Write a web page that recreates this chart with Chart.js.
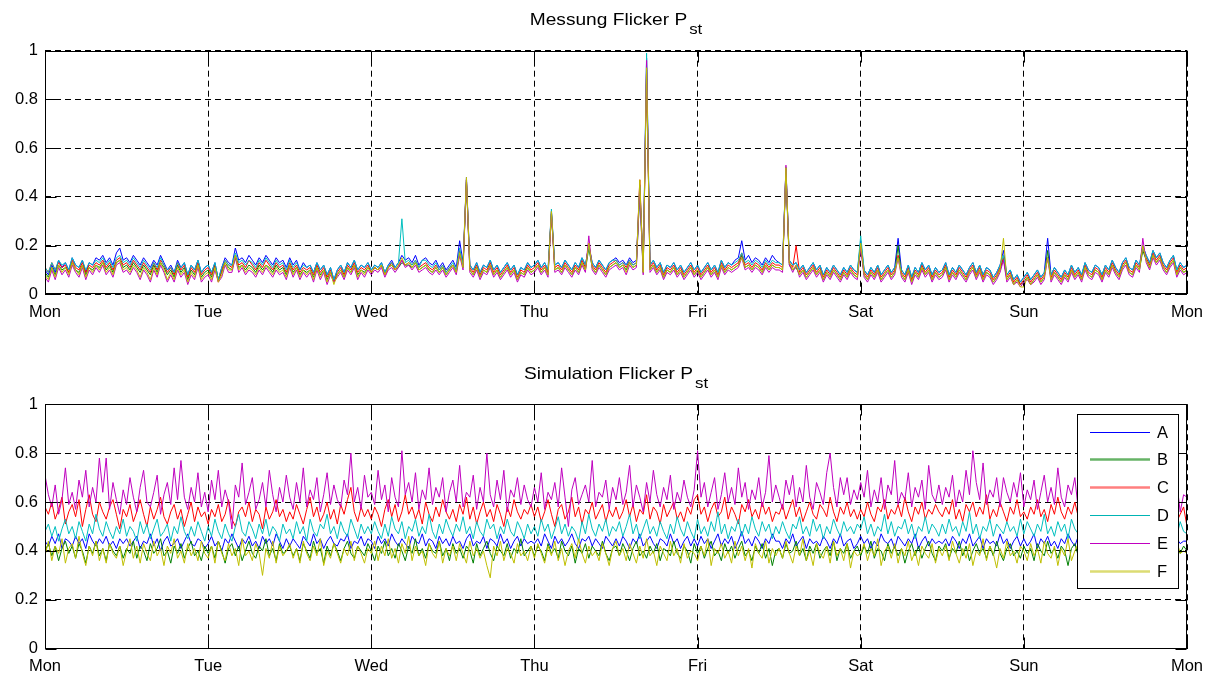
<!DOCTYPE html>
<html>
<head>
<meta charset="utf-8">
<script src="https://cdn.jsdelivr.net/npm/chart.js@4.4.0/dist/chart.umd.min.js"></script>
<style>
  body { margin: 0; background: #fff; }
  #wrap { position: relative; width: 1216px; height: 677px; }
  canvas { position: absolute; left: 0; }
</style>
</head>
<body>
<div id="wrap">
  <canvas id="mess" width="1216" height="340" style="top:0"></canvas>
  <canvas id="sim" width="1216" height="323" style="top:354px"></canvas>
</div>
<script>
// Pst in hundredths, one sample every 30 min, Mon 00:00 .. next Mon 00:00 (337 samples)
const DAYS = ['Mon', 'Tue', 'Wed', 'Thu', 'Fri', 'Sat', 'Sun', 'Mon'];
const NAMES = ['A', 'B', 'C', 'D', 'E', 'F'];

const MESS_A = [10,8,12,9,14,11,13,10,15,12,11,14,9,13,12,15,14,16,13,15,12,17,19,14,
  15,13,16,14,12,15,13,11,14,12,16,13,10,12,9,14,11,13,8,12,10,14,9,11,
  12,9,13,6,11,15,13,12,19,14,15,13,16,14,12,15,13,16,14,12,15,13,14,11,
  15,12,14,10,13,11,12,9,13,10,12,8,11,6,10,12,9,13,11,14,10,12,11,13,
  10,12,11,13,9,12,14,11,13,16,14,15,13,16,12,14,15,13,12,14,11,13,10,12,
  14,11,22,13,48,12,10,13,9,12,11,14,10,12,9,11,13,10,12,8,11,10,13,11,
  12,14,11,13,10,34,12,13,11,14,12,10,13,11,15,12,20,13,11,14,12,10,13,14,
  15,13,14,12,15,13,14,45,11,97,12,14,11,13,9,12,11,13,10,12,9,11,13,10,
  12,9,11,13,10,12,9,14,11,13,12,14,15,22,14,16,13,15,14,12,15,13,16,14,
  13,12,52,14,12,13,10,12,9,11,13,10,12,8,11,9,12,10,8,11,9,12,10,9,
  22,10,8,11,9,12,8,10,12,9,11,23,10,8,12,7,11,9,13,10,12,8,11,9,
  10,13,8,11,9,12,10,8,11,13,9,12,8,11,10,7,9,12,18,8,10,6,8,5,
  7,9,6,8,10,7,9,23,8,11,9,7,10,8,12,9,11,8,13,10,9,12,11,8,
  12,10,14,11,9,13,15,11,10,14,12,20,16,13,18,15,17,13,11,14,16,10,13,11,
  12];
const MESS_B = [9,7,11,8,12,10,11,9,13,10,9,12,8,11,10,12,11,13,10,12,9,13,14,11,
  12,10,13,11,9,12,10,8,12,9,13,11,8,10,7,12,9,11,6,10,8,12,7,9,
  10,7,12,6,9,13,11,10,15,11,12,10,12,11,9,12,10,12,11,9,12,10,11,8,
  12,9,11,8,10,9,10,7,11,8,10,6,9,5,8,10,7,11,9,12,8,10,9,11,
  9,11,10,12,8,11,12,10,11,13,12,12,11,13,10,11,12,10,9,11,9,11,8,10,
  12,9,17,11,46,10,8,11,7,10,9,12,8,10,7,9,11,8,10,6,9,8,11,9,
  10,12,9,11,8,33,10,11,9,12,10,8,11,9,13,10,19,11,9,12,10,8,11,12,
  13,11,12,10,13,11,12,42,9,92,10,12,9,11,7,10,9,11,8,10,7,9,11,8,
  10,7,9,11,8,10,7,12,9,11,10,11,12,16,11,12,10,12,11,9,12,10,12,11,
  11,10,50,12,10,11,8,10,7,9,11,8,10,6,9,7,10,8,6,9,7,10,8,7,
  20,8,6,9,7,10,6,8,10,7,9,20,8,6,10,5,9,7,11,8,10,6,9,7,
  8,11,6,9,7,10,8,6,9,11,7,10,6,9,8,5,7,10,15,6,8,4,6,4,
  5,7,4,6,8,5,7,18,6,9,7,5,8,6,10,7,9,6,11,8,7,10,9,6,
  10,8,12,9,7,11,13,9,8,12,10,18,14,11,16,13,15,11,9,12,14,8,11,9,
  10];
const MESS_C = [11,9,13,10,13,11,12,9,14,11,10,13,9,12,11,13,12,14,11,13,10,14,15,12,
  13,11,14,12,10,13,11,9,13,10,14,12,9,11,8,13,10,12,7,11,9,13,8,10,
  11,8,12,5,10,14,12,11,16,12,13,11,14,12,10,13,11,14,12,10,13,11,12,9,
  13,10,12,9,11,10,11,8,12,9,11,7,10,5,9,11,8,12,10,13,9,11,10,12,
  9,11,10,12,8,11,13,10,12,14,12,13,12,14,11,12,13,11,10,12,10,12,9,11,
  12,10,18,12,47,11,9,12,8,11,10,13,9,11,8,10,12,9,11,7,10,9,12,10,
  11,13,10,12,9,34,11,12,10,13,11,9,12,10,14,11,21,12,10,13,11,9,12,13,
  14,12,13,11,14,12,13,47,10,93,11,13,10,12,8,11,10,12,9,11,8,10,12,9,
  11,8,10,12,9,11,8,13,10,12,11,12,13,17,12,13,11,13,12,10,13,11,13,12,
  12,11,51,13,11,20,9,11,8,10,12,9,11,7,10,8,11,9,7,10,8,11,9,8,
  21,9,7,10,8,11,7,9,11,8,10,16,9,7,11,6,10,8,12,9,11,7,10,8,
  9,12,7,10,8,11,9,7,10,12,8,11,7,10,9,6,8,11,15,7,9,5,7,4,
  6,8,5,7,9,6,8,15,7,10,8,6,9,7,11,8,10,7,12,9,8,11,10,7,
  11,9,13,10,8,12,14,10,9,13,11,19,15,12,17,14,16,12,10,13,15,9,12,10,
  11];
const MESS_D = [11,9,13,10,14,12,13,10,15,12,11,14,10,13,12,14,13,15,12,14,11,15,16,13,
  14,12,15,13,11,14,12,10,13,11,15,12,10,11,9,13,11,13,8,12,10,14,9,11,
  12,9,13,6,11,14,12,12,17,13,14,12,14,13,11,14,12,15,13,11,14,12,13,10,
  14,11,13,10,12,11,12,9,13,10,12,8,11,6,10,12,9,13,11,14,10,12,11,13,
  10,12,11,13,9,12,13,11,13,31,13,14,12,14,11,14,14,12,11,13,10,12,9,11,
  13,10,19,12,47,12,10,13,9,12,11,14,10,12,9,11,13,10,12,8,11,10,13,11,
  12,14,11,13,10,35,12,13,11,14,12,10,13,11,15,12,20,13,11,14,12,10,13,14,
  14,12,13,12,14,12,13,44,11,99,12,14,11,13,9,12,11,13,10,12,9,11,13,10,
  12,9,11,13,10,12,9,14,11,13,12,13,14,17,13,14,12,14,13,11,14,12,14,13,
  13,12,52,14,12,13,10,12,9,11,13,10,12,8,11,9,12,10,8,11,9,12,10,9,
  24,10,8,11,9,12,8,10,12,9,11,15,10,8,12,7,11,9,13,10,12,8,11,9,
  10,13,8,11,9,12,10,8,11,13,9,12,8,11,10,7,9,12,16,8,10,6,8,5,
  7,9,6,8,10,7,9,15,8,11,9,7,10,8,12,9,11,8,13,10,9,12,11,8,
  12,10,14,11,9,13,15,11,10,14,12,19,16,13,18,15,17,13,11,14,16,10,13,11,
  12];
const MESS_E = [7,5,10,6,11,8,10,7,12,9,7,11,6,10,8,11,9,12,8,10,7,12,13,9,
  10,8,11,9,6,10,8,5,10,7,12,9,5,8,5,10,7,9,4,8,6,11,5,7,
  8,5,10,5,7,12,9,9,15,9,11,8,10,9,7,10,8,11,9,7,10,8,9,6,
  11,7,10,6,9,7,9,5,10,6,9,4,8,5,7,9,6,10,8,11,6,9,7,10,
  8,10,9,11,7,10,11,9,11,14,11,12,10,12,9,10,11,9,8,10,8,10,7,9,
  11,8,16,10,47,9,7,10,6,9,8,11,7,9,6,8,10,7,9,5,8,7,10,8,
  9,11,8,10,7,33,9,10,8,11,9,7,10,8,12,9,24,10,8,11,9,7,10,11,
  12,10,11,8,12,10,11,43,8,96,9,11,8,10,6,9,8,10,7,9,6,8,10,7,
  9,6,8,10,7,9,6,11,8,10,9,10,11,15,10,11,9,11,10,8,11,9,11,10,
  10,9,53,12,9,12,7,9,6,8,10,7,9,5,8,6,9,7,5,8,6,9,7,6,
  19,7,5,8,6,9,5,7,9,6,8,15,7,5,9,4,8,6,10,7,9,5,8,6,
  7,10,5,8,6,9,7,5,8,10,6,9,5,8,7,4,6,9,14,5,7,4,5,3,
  5,6,4,5,7,4,6,15,5,8,6,4,7,5,9,6,8,5,10,7,6,9,8,5,
  9,7,11,8,6,10,12,8,7,11,9,23,13,10,15,12,14,10,8,11,13,7,10,8,
  9];
const MESS_F = [8,6,11,7,12,9,11,8,13,10,8,12,7,11,9,12,10,13,9,11,8,13,14,10,
  11,9,12,10,7,11,9,6,11,8,13,10,6,9,6,11,8,10,5,9,7,12,6,8,
  9,6,11,5,8,13,10,10,16,10,12,9,11,10,8,11,9,12,10,8,11,9,10,7,
  12,8,11,7,10,8,10,6,11,7,10,5,9,4,8,10,7,11,9,12,7,10,8,11,
  9,11,10,12,8,11,12,10,12,15,12,13,11,13,10,11,12,10,9,11,9,11,8,10,
  12,9,17,11,48,10,8,11,7,10,9,12,8,10,7,9,11,8,10,6,9,8,11,9,
  10,12,9,11,8,34,10,11,9,12,10,8,11,9,13,10,21,11,9,12,10,8,11,12,
  13,11,12,9,13,11,12,47,9,93,10,12,9,11,7,10,9,11,8,10,7,9,11,8,
  10,7,9,11,8,10,7,12,9,11,10,11,12,15,11,12,10,12,11,9,12,10,12,11,
  11,10,52,13,10,12,8,10,7,9,11,8,10,6,9,7,10,8,6,9,7,10,8,7,
  21,8,6,9,7,10,6,8,10,7,9,15,8,6,10,5,9,7,11,8,10,6,9,7,
  8,11,6,9,7,10,8,6,9,11,7,10,6,9,8,5,7,10,23,6,8,4,6,3,
  3,7,4,6,8,5,7,15,6,9,7,5,8,6,10,7,9,6,11,8,7,10,9,6,
  10,8,12,9,7,11,13,9,8,12,10,20,14,11,16,13,15,11,9,12,14,8,11,9,
  10];

const SIM_A = [44,42,46,43,47,41,45,44,42,46,43,45,41,47,44,42,45,43,46,42,44,41,45,43,
  45,42,44,46,41,44,43,47,42,45,40,44,46,42,43,45,41,44,47,43,42,45,44,41,
  43,46,42,44,40,45,43,47,44,41,45,43,46,42,44,41,46,43,45,42,47,44,41,45,
  42,45,43,41,46,44,42,47,43,45,41,44,46,43,42,45,44,47,41,44,43,46,42,45,
  44,41,46,43,45,42,47,44,42,45,43,41,46,44,43,47,42,45,44,41,46,43,45,42,
  46,43,44,41,45,47,42,44,43,46,41,45,44,42,47,43,45,41,44,46,42,45,43,44,
  43,45,42,47,44,41,46,43,45,42,44,47,43,41,45,44,46,42,45,43,41,46,44,42,
  45,42,46,44,41,45,43,47,42,44,46,43,41,45,44,42,47,43,45,41,44,46,42,45,
  42,46,43,45,41,44,47,42,45,43,46,41,44,48,43,45,42,46,44,41,45,43,47,44,
  44,41,45,43,47,42,44,46,41,45,43,44,42,46,44,41,45,43,47,42,44,45,41,43,
  46,43,45,41,44,42,47,44,43,45,41,46,44,42,45,43,47,41,44,46,42,45,43,44,
  43,45,42,46,44,41,45,43,47,42,44,46,41,45,43,44,42,47,43,45,41,44,46,42,
  45,42,44,47,41,45,43,46,42,44,41,45,43,47,44,42,46,43,45,41,44,46,43,45,
  44,41,46,43,45,42,47,44,41,45,43,46,42,44,47,43,45,41,44,46,42,45,43,44,
  44];
const SIM_B = [40,43,38,42,36,41,44,39,42,37,43,40,35,42,39,44,38,41,36,43,40,38,42,37,
  41,39,44,37,42,40,36,43,39,41,45,38,40,35,42,39,43,37,41,44,38,40,36,42,
  39,42,37,44,40,35,41,43,38,42,36,40,44,39,37,42,40,45,38,41,36,43,39,40,
  42,38,41,36,43,40,37,44,39,41,35,42,38,43,40,36,41,44,39,37,42,40,38,43,
  40,36,42,39,44,38,41,37,43,40,36,42,39,45,38,41,37,43,40,39,44,38,41,36,
  43,39,41,37,42,40,35,43,38,41,44,39,36,42,40,38,43,37,41,39,45,38,40,42,
  38,42,40,36,43,39,41,37,44,40,38,42,35,41,39,43,37,42,40,38,44,39,36,41,
  42,38,43,40,36,41,44,38,40,37,42,39,43,36,41,40,38,44,39,37,42,40,35,43,
  39,42,37,41,44,38,40,36,43,39,42,37,41,44,38,40,36,42,39,43,37,41,34,40,
  41,37,43,39,40,44,38,41,36,42,39,43,37,40,42,38,44,36,41,39,43,37,40,42,
  38,42,39,44,37,41,40,36,43,39,42,38,41,35,40,43,38,42,37,41,44,39,36,42,
  40,43,37,41,39,44,38,42,36,40,43,39,41,37,42,38,44,39,36,41,43,38,40,37,
  42,39,41,36,43,40,38,44,39,41,37,42,40,34,41,43,38,40,36,42,39,44,38,41,
  39,42,37,43,40,38,41,45,38,42,36,40,43,39,41,37,42,40,38,43,36,41,39,42,
  40];
const SIM_C = [58,55,60,53,57,62,51,56,59,54,61,50,57,63,55,52,60,56,53,58,61,55,49,57,
  54,59,52,56,61,55,50,58,53,57,62,54,51,56,59,53,57,50,55,60,52,58,54,56,
  51,57,54,59,52,55,61,53,50,56,58,54,60,52,57,55,49,58,53,56,61,54,57,52,
  56,53,59,55,51,57,62,54,58,52,55,60,53,57,51,59,55,61,66,56,52,58,54,57,
  53,58,55,50,57,61,54,59,52,56,63,55,58,53,57,51,60,55,52,58,54,61,56,53,
  57,52,59,55,62,53,58,51,56,60,54,57,52,59,55,50,58,54,61,56,53,57,55,59,
  54,58,52,56,61,55,50,57,59,53,56,62,54,58,51,57,55,60,53,56,59,52,57,54,
  58,53,56,61,54,59,52,57,55,63,53,58,56,51,59,54,57,60,53,56,52,58,55,61,
  63,55,58,52,57,60,54,56,62,53,58,55,51,59,56,61,54,57,53,60,55,58,52,56,
  55,59,53,57,61,54,58,52,56,60,55,53,59,57,54,62,56,52,58,55,60,54,57,53,
  57,54,60,55,52,58,56,61,53,57,55,59,54,62,56,52,58,55,60,53,57,55,59,56,
  54,58,55,61,53,57,52,59,56,60,54,58,55,63,53,57,54,60,56,52,58,55,61,54,
  56,53,58,55,61,54,57,52,59,55,62,56,53,58,55,60,54,57,52,59,56,53,58,55,
  58,54,57,52,60,55,58,53,56,61,54,57,55,59,53,57,51,56,60,54,57,52,55,58,
  50];
const SIM_D = [48,51,46,50,44,49,53,47,50,45,52,48,44,51,47,55,49,46,52,48,45,50,47,53,
  46,50,48,44,52,47,51,45,49,53,46,48,51,44,50,47,54,48,45,50,46,52,48,44,
  50,46,53,48,45,51,47,44,50,55,48,46,52,49,45,51,47,53,46,50,48,44,51,47,
  49,45,52,47,50,44,53,48,46,51,49,55,47,50,45,52,48,46,53,49,45,51,47,50,
  47,52,48,45,51,46,54,49,47,52,45,50,48,53,46,50,47,55,48,45,51,47,53,49,
  46,51,48,54,47,50,45,52,48,46,53,49,51,45,50,47,53,48,46,52,49,45,51,47,
  50,46,53,48,51,45,49,54,47,51,46,50,48,44,52,47,55,49,46,51,48,53,46,50,
  48,52,46,50,55,47,51,45,49,53,47,50,46,52,48,45,51,47,54,49,46,52,48,45,
  53,47,50,46,52,48,56,47,51,45,50,48,53,46,51,47,54,49,46,52,48,51,45,50,
  47,52,48,45,51,49,54,47,50,46,53,48,51,45,50,47,53,49,46,52,48,50,47,51,
  49,54,47,51,46,50,48,55,47,52,46,50,49,53,47,51,45,50,48,54,47,51,49,46,
  51,47,53,48,50,46,52,48,56,47,51,45,50,48,53,46,51,49,47,52,48,50,46,53,
  47,52,49,46,51,48,55,47,50,46,52,48,51,45,53,49,47,52,48,50,46,51,48,54,
  48,51,46,52,49,54,47,50,46,52,48,55,47,51,46,50,48,53,47,51,49,46,52,48,
  47];
const SIM_E = [71,63,58,67,55,61,74,59,64,57,69,62,73,58,66,60,78,64,78,57,68,61,55,65,
  59,70,62,56,66,73,60,58,64,71,55,63,68,59,74,61,77,62,57,66,60,72,58,64,
  56,69,61,73,58,65,60,49,67,62,76,59,64,70,57,61,68,58,73,63,56,66,60,71,
  62,57,68,60,74,58,65,61,70,56,63,72,59,67,61,58,69,63,80,60,66,57,71,62,
  64,59,73,61,67,56,70,62,58,81,63,68,60,72,57,65,61,74,59,66,62,70,56,64,
  69,60,75,58,64,62,71,57,66,60,80,63,58,69,61,73,56,65,62,70,59,67,61,58,
  66,60,72,57,64,61,68,58,74,62,50,65,70,59,63,67,60,77,58,64,62,69,57,66,
  61,70,59,64,75,58,67,62,56,68,60,73,63,58,66,61,71,57,64,60,69,62,58,65,
  81,62,68,58,64,70,57,63,72,60,66,59,74,62,68,57,65,61,70,58,64,79,60,67,
  62,57,69,63,71,58,66,60,75,62,57,68,64,59,72,80,66,58,70,63,70,59,65,61,
  68,62,73,58,65,60,70,57,67,63,77,59,64,61,72,58,66,62,69,57,75,63,60,67,
  59,66,62,71,58,65,60,73,63,81,68,61,76,59,65,62,70,58,70,64,60,68,62,72,
  58,65,61,69,57,64,71,60,66,59,74,62,58,67,63,70,57,65,61,72,59,66,62,68,
  60,71,58,65,62,75,57,64,61,69,58,66,73,60,64,58,70,62,57,66,61,68,56,63,
  62];
const SIM_F = [38,44,36,42,39,45,35,41,43,37,46,39,34,42,38,44,36,41,35,43,39,37,42,34,
  40,45,37,42,35,43,39,36,44,38,41,34,42,39,45,37,40,35,43,38,41,36,44,39,
  37,42,35,44,39,36,43,38,41,34,45,38,40,36,43,39,30,41,37,44,35,42,38,40,
  43,37,41,35,44,39,36,42,38,45,34,40,37,43,39,35,41,38,44,36,42,39,35,41,
  39,44,36,42,38,45,37,41,35,43,39,46,36,42,38,40,34,43,39,37,44,35,41,38,
  42,36,43,39,35,44,38,41,37,40,34,29,42,38,44,36,41,39,35,43,38,40,36,42,
  37,43,39,35,42,38,44,36,41,34,40,43,37,45,39,35,42,38,40,36,43,39,34,41,
  44,38,41,36,43,39,35,42,37,45,38,40,34,42,39,36,44,38,41,35,43,37,40,39,
  36,42,38,45,34,41,39,43,37,40,35,44,38,42,36,41,33,43,39,37,44,35,41,38,
  41,37,44,39,35,42,38,45,36,40,34,43,39,37,42,35,44,38,41,36,43,33,40,38,
  39,43,36,41,38,45,34,40,42,37,43,35,41,38,44,36,40,34,42,39,37,43,35,41,
  38,42,36,44,39,35,41,37,43,34,40,38,45,36,42,39,33,41,37,44,38,40,35,42,
  40,36,43,38,41,35,44,39,37,42,34,41,38,45,36,40,43,37,39,35,42,38,44,36,
  41,38,35,43,39,36,42,37,44,38,40,34,41,37,43,39,35,42,38,41,36,44,39,40,
  39];

const SLOTS = MESS_A.map((v, i) => i);   // half-hour index for the x axis

const COLORS = ['#0000ff', '#008000', '#ff0000', '#00bfbf', '#bf00bf', '#bfbf00'];
// legend swatches look like the antialiased matlab ones
const SWATCH = [['#0000ff', 1], ['rgba(0,128,0,0.6)', 2.5], ['rgba(255,0,0,0.5)', 2.5],
  ['#00b4b4', 1], ['#c000c0', 1], ['rgba(191,191,0,0.55)', 2.5]];

const FONT = '"Liberation Sans", Arial, Helvetica, sans-serif';
Chart.defaults.font.family = FONT;
Chart.defaults.font.size = 16.5;
Chart.defaults.color = '#000';

// box around the axes + inward tick marks, like matlab "box on"
const frame = {
  id: 'frame',
  afterDatasetsDraw(chart) {
    const { ctx, chartArea: a, scales: { x, y } } = chart;
    const L = Math.round(a.left) + 0.5, R = Math.round(a.right) - 0.5;
    const T = Math.round(a.top) + 0.5, B = Math.round(a.bottom) - 0.5;
    ctx.save();
    ctx.strokeStyle = '#000';
    ctx.lineWidth = 1;
    ctx.strokeRect(L, T, R - L, B - T);
    ctx.beginPath();
    x.ticks.forEach(t => {
      const px = Math.round(x.getPixelForValue(t.value)) + 0.5;
      ctx.moveTo(px, B); ctx.lineTo(px, B - 11);
      ctx.moveTo(px, T); ctx.lineTo(px, T + 11);
    });
    y.ticks.forEach(t => {
      const py = Math.round(y.getPixelForValue(t.value)) + 0.5;
      ctx.moveTo(L, py); ctx.lineTo(L + 11, py);
      ctx.moveTo(R, py); ctx.lineTo(R - 11, py);
    });
    ctx.stroke();
    ctx.restore();
  }
};

// title with subscript, text is a bit wider than plain Arial in the original
const pstTitle = {
  id: 'pstTitle',
  afterDraw(chart, args, opts) {
    const { ctx, chartArea: a } = chart;
    const sx = 1.16;
    ctx.save();
    ctx.fillStyle = '#000';
    ctx.textBaseline = 'alphabetic';
    ctx.font = '16.5px ' + FONT;
    const w1 = ctx.measureText(opts.text).width * sx;
    ctx.font = '14.5px ' + FONT;
    const w2 = ctx.measureText(opts.sub).width * sx;
    const x0 = (a.left + a.right) / 2 - (w1 + w2 + 2) / 2;
    ctx.translate(x0, 0);
    ctx.scale(sx, 1);
    ctx.font = '16.5px ' + FONT;
    ctx.fillText(opts.text, 0, opts.y);
    ctx.font = '14.5px ' + FONT;
    ctx.fillText(opts.sub, (w1 + 2) / sx, opts.y + 9);
    ctx.restore();
  }
};

const boxLegend = {
  id: 'boxLegend',
  afterDraw(chart) {
    const { ctx } = chart;
    const bx = 1077.5, by = 60.5, bw = 101, bh = 174;
    ctx.save();
    ctx.fillStyle = '#fff';
    ctx.fillRect(bx, by, bw, bh);
    ctx.strokeStyle = '#000';
    ctx.lineWidth = 1;
    ctx.strokeRect(bx, by, bw, bh);
    ctx.font = '16.5px ' + FONT;
    ctx.textBaseline = 'middle';
    ctx.fillStyle = '#000';
    chart.data.datasets.forEach((ds, i) => {
      const yy = Math.round(77.5 + i * 27.9) + 0.5;
      ctx.strokeStyle = SWATCH[i][0];
      ctx.lineWidth = SWATCH[i][1];
      ctx.beginPath();
      ctx.moveTo(1090, yy); ctx.lineTo(1150, yy);
      ctx.stroke();
      ctx.fillText(ds.label, 1157, yy + 1);
    });
    ctx.restore();
  }
};

function makeChart(id, series, title, axisH, extra) {
  return new Chart(document.getElementById(id), {
    type: 'line',
    data: {
      labels: SLOTS,
      datasets: series.map((s, i) => ({
        label: NAMES[i],
        data: s,
        borderColor: COLORS[i],
        borderWidth: 1,
        pointRadius: 0,
        tension: 0,
        fill: false,
        order: series.length - i
      }))
    },
    options: {
      responsive: false,
      animation: false,
      events: [],
      layout: { padding: { left: 0, right: 29, top: title.pad, bottom: 0 } },
      plugins: {
        legend: { display: false },
        tooltip: { enabled: false },
        pstTitle: title
      },
      scales: {
        x: {
          type: 'linear',
          min: 0, max: 336,
          afterFit: s => { s.height = axisH; },
          ticks: {
            stepSize: 48,
            padding: 8,
            maxRotation: 0,
            callback: v => DAYS[v / 48]
          },
          grid: { color: '#000', drawTicks: false, lineWidth: 1 },
          border: { display: false, dash: [6, 4] }
        },
        y: {
          min: 0, max: 100,
          afterFit: s => { s.width = 45; },
          ticks: {
            stepSize: 20,
            padding: 7,
            callback: v => String(v / 100)
          },
          grid: { color: '#000', drawTicks: false, lineWidth: 1 },
          border: { display: false, dash: [6, 4] }
        }
      }
    },
    plugins: [frame, pstTitle].concat(extra)
  });
}

makeChart('mess', [MESS_A, MESS_B, MESS_C, MESS_D, MESS_E, MESS_F],
  { text: 'Messung Flicker P', sub: 'st', y: 25, pad: 50.7 }, 45.7, []);
makeChart('sim', [SIM_A, SIM_B, SIM_C, SIM_D, SIM_E, SIM_F],
  { text: 'Simulation Flicker P', sub: 'st', y: 25, pad: 50.3 }, 28.3, [boxLegend]);
</script>
</body>
</html>
